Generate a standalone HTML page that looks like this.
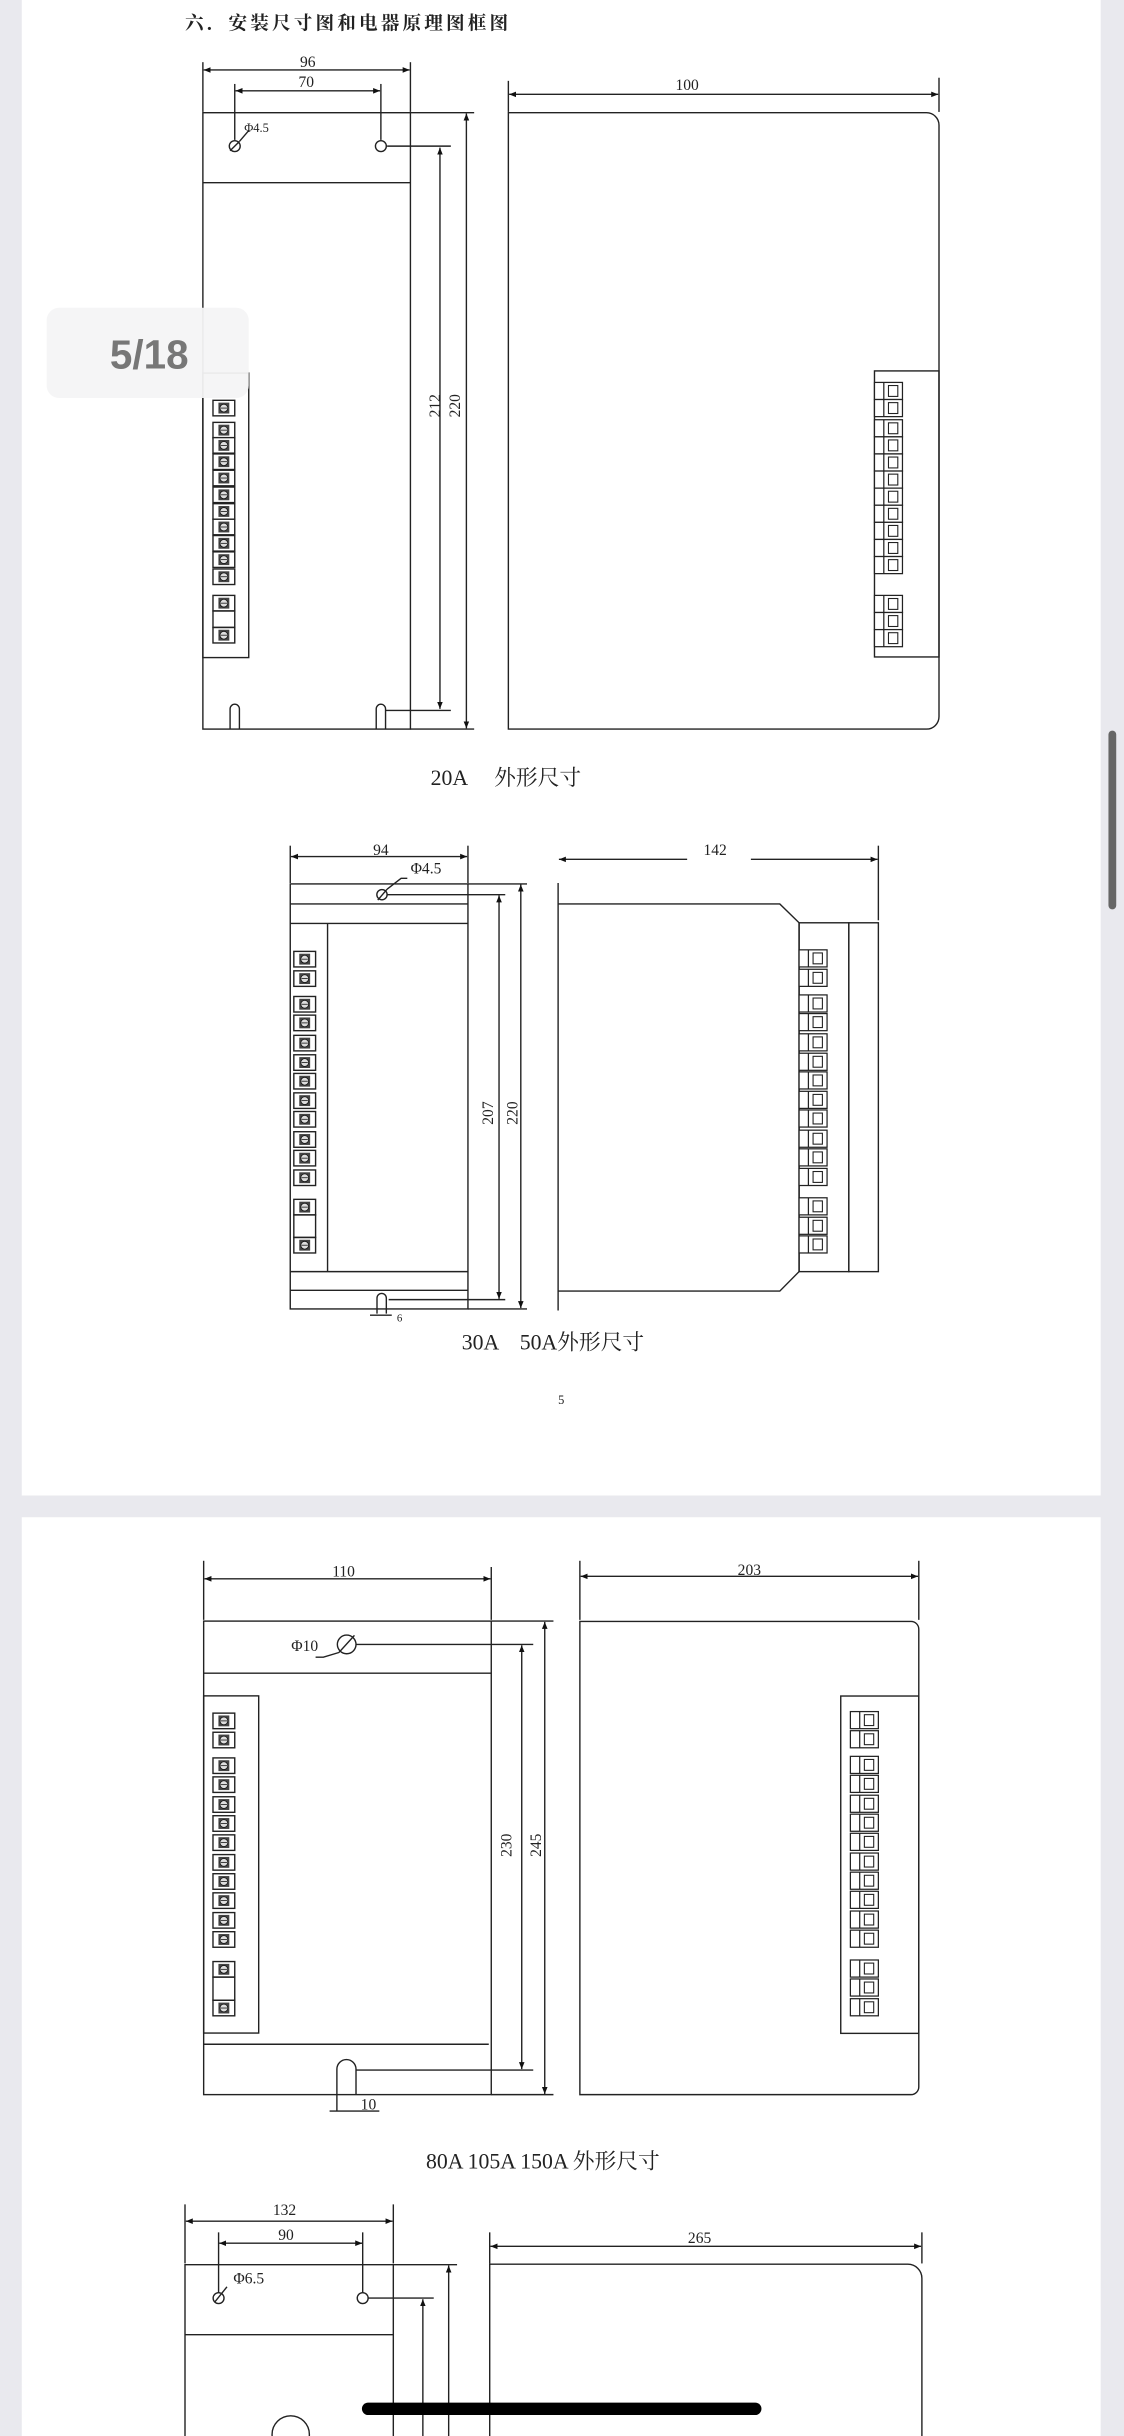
<!DOCTYPE html>
<html><head><meta charset="utf-8"><style>
html,body{margin:0;padding:0;background:#e9e9ee;}
svg{display:block;}
text{font-family:"Liberation Serif","Noto Serif CJK SC",serif;fill:#222;}
.cj{font-family:"Liberation Serif","Noto Serif CJK SC","Noto Sans CJK SC",serif;}
</style></head><body>
<svg width="1124" height="2436" viewBox="0 0 723 1567" preserveAspectRatio="none" xmlns="http://www.w3.org/2000/svg">
<defs>
<marker id="a" viewBox="0 0 10 10" refX="10" refY="5" markerWidth="5" markerHeight="5" orient="auto-start-reverse"><path d="M0,1 L10,5 L0,9 z" fill="#111"/></marker>
<g id="t"><rect x="0" y="0" width="14" height="10" fill="#fff" stroke="#222" stroke-width="0.9"/><rect x="3.5" y="1.5" width="7" height="7" fill="#444"/><circle cx="7" cy="5" r="2.5" fill="#ddd" stroke="#111" stroke-width="0.5"/><line x1="5" y1="5" x2="9" y2="5" stroke="#111" stroke-width="0.5"/></g>
<g id="s"><rect x="0" y="0" width="18" height="11" fill="#fff" stroke="#222" stroke-width="0.8"/><line x1="6" y1="0" x2="6" y2="11" stroke="#222" stroke-width="0.8"/><rect x="9" y="2" width="6" height="7" fill="none" stroke="#222" stroke-width="0.7"/></g>
</defs>
<rect x="0" y="0" width="723" height="1567" fill="#e9e9ee"/>
<rect x="14" y="0" width="694" height="962" fill="#fff"/>
<rect x="14" y="976" width="694" height="600" fill="#fff"/>
<rect x="713" y="470" width="5" height="115" rx="2.5" fill="#666"/>

<g stroke="#222" stroke-width="0.9" fill="none">
<!-- Drawing 1 front -->
<rect x="130.5" y="72.5" width="133.5" height="396.5"/>
<line x1="130.5" y1="117.5" x2="264" y2="117.5"/>
<circle cx="151" cy="94" r="3.5"/><circle cx="245" cy="94" r="3.5"/>
<line x1="148" y1="97" x2="154" y2="91"/><line x1="154" y1="91" x2="160" y2="84"/>
<rect x="130.5" y="240" width="29.5" height="183"/>
<path d="M148,469 V456 a3,3 0 0 1 6,0 V469 M242,469 V456 a3,3 0 0 1 6,0 V469"/>
<line x1="130.5" y1="40" x2="130.5" y2="72"/><line x1="264" y1="40" x2="264" y2="72"/>
<line x1="131" y1="45" x2="263.5" y2="45" marker-start="url(#a)" marker-end="url(#a)"/>
<line x1="151" y1="54" x2="151" y2="90"/><line x1="245" y1="54" x2="245" y2="90"/>
<line x1="151.5" y1="58.4" x2="244.5" y2="58.4" marker-start="url(#a)" marker-end="url(#a)"/>
<line x1="249" y1="94" x2="290" y2="94"/><line x1="248" y1="457" x2="290" y2="457"/>
<line x1="264" y1="72.5" x2="305" y2="72.5"/><line x1="264" y1="469" x2="305" y2="469"/>
<line x1="283" y1="95" x2="283" y2="456" marker-start="url(#a)" marker-end="url(#a)"/>
<line x1="300" y1="73" x2="300" y2="468.5" marker-start="url(#a)" marker-end="url(#a)"/>
<!-- side 1 -->
<path d="M327,72.5 H596 a8,8 0 0 1 8,8 V461 a8,8 0 0 1 -8,8 H327 Z"/>
<rect x="562.5" y="238.6" width="41.5" height="184"/>
<line x1="327" y1="52" x2="327" y2="72"/><line x1="604" y1="50" x2="604" y2="72"/>
<line x1="327.5" y1="60.7" x2="603.5" y2="60.7" marker-start="url(#a)" marker-end="url(#a)"/>

<!-- Drawing 2 front -->
<rect x="186.7" y="568.6" width="114.3" height="273.4"/>
<line x1="186.7" y1="581.5" x2="301" y2="581.5"/><line x1="186.7" y1="594" x2="301" y2="594"/>
<line x1="186.7" y1="818" x2="301" y2="818"/><line x1="186.7" y1="830" x2="301" y2="830"/>
<line x1="210.7" y1="594" x2="210.7" y2="818"/>
<circle cx="245.7" cy="575.5" r="3.3"/><line x1="243" y1="579" x2="249" y2="572"/><path d="M249,572 L258,565 H262"/>
<path d="M242.5,845 V835 a3,3 0 0 1 6,0 V845"/>
<line x1="238" y1="846" x2="252" y2="846"/>
<line x1="186.7" y1="544" x2="186.7" y2="568"/><line x1="301" y1="544" x2="301" y2="568"/>
<line x1="187.2" y1="551" x2="300.5" y2="551" marker-start="url(#a)" marker-end="url(#a)"/>
<line x1="249" y1="575.5" x2="325" y2="575.5"/><line x1="301" y1="568.6" x2="339" y2="568.6"/>
<line x1="250" y1="836" x2="325" y2="836"/><line x1="301" y1="842" x2="339" y2="842"/>
<line x1="321" y1="576" x2="321" y2="835.5" marker-start="url(#a)" marker-end="url(#a)"/>
<line x1="335" y1="569" x2="335" y2="841.5" marker-start="url(#a)" marker-end="url(#a)"/>
<!-- side 2 -->
<line x1="359" y1="568" x2="359" y2="843"/>
<path d="M359,581.5 H501.6 L514,593.6 V818 L501.6,830.5 H359"/>
<rect x="514" y="593.6" width="32" height="224.4"/>
<rect x="546" y="593.6" width="19" height="224.4"/>
<line x1="565" y1="544" x2="565" y2="592"/>
<line x1="359.5" y1="552.8" x2="442" y2="552.8" marker-start="url(#a)"/>
<line x1="483" y1="552.8" x2="564.5" y2="552.8" marker-end="url(#a)"/>

<!-- Drawing 3 front -->
<rect x="131" y="1042.8" width="185" height="304.6"/>
<line x1="131" y1="1076.3" x2="316" y2="1076.3"/>
<line x1="131" y1="1315" x2="314.4" y2="1315"/>
<rect x="131" y="1090.9" width="35.4" height="216.9"/>
<circle cx="223" cy="1057.8" r="6"/><line x1="218" y1="1063" x2="228" y2="1052"/><path d="M218,1063 L208,1066 H203"/>
<path d="M216.7,1358 V1331 a6.15,6.15 0 0 1 12.3,0 V1347"/>
<line x1="212" y1="1358" x2="244" y2="1358"/>
<line x1="131" y1="1004" x2="131" y2="1042"/><line x1="316" y1="1008" x2="316" y2="1042"/>
<line x1="131.5" y1="1015.6" x2="315.5" y2="1015.6" marker-start="url(#a)" marker-end="url(#a)"/>
<line x1="229" y1="1057.8" x2="343" y2="1057.8"/><line x1="316" y1="1042.8" x2="356" y2="1042.8"/>
<line x1="229" y1="1331.6" x2="343" y2="1331.6"/><line x1="316" y1="1347.4" x2="356" y2="1347.4"/>
<line x1="335.6" y1="1058.3" x2="335.6" y2="1331" marker-start="url(#a)" marker-end="url(#a)"/>
<line x1="350.4" y1="1043.3" x2="350.4" y2="1347" marker-start="url(#a)" marker-end="url(#a)"/>
<!-- side 3 -->
<path d="M373,1043 H586 a5,5 0 0 1 5,5 V1342.4 a5,5 0 0 1 -5,5 H373 Z"/>
<rect x="540.8" y="1091" width="50.2" height="217"/>
<line x1="373" y1="1004" x2="373" y2="1042"/><line x1="591" y1="1004" x2="591" y2="1042"/>
<line x1="373.5" y1="1014" x2="590.5" y2="1014" marker-start="url(#a)" marker-end="url(#a)"/>

<!-- Drawing 4 -->
<line x1="119" y1="1418" x2="119" y2="1456"/><line x1="253" y1="1418" x2="253" y2="1456"/>
<line x1="119.5" y1="1428.8" x2="252.5" y2="1428.8" marker-start="url(#a)" marker-end="url(#a)"/>
<line x1="140.6" y1="1436" x2="140.6" y2="1475"/><line x1="233.3" y1="1436" x2="233.3" y2="1475"/>
<line x1="141" y1="1443" x2="233" y2="1443" marker-start="url(#a)" marker-end="url(#a)"/>
<path d="M119,1567 V1456.8 H253 V1567"/>
<line x1="119" y1="1501.8" x2="253" y2="1501.8"/>
<circle cx="140.6" cy="1478.3" r="3.5"/><circle cx="233.3" cy="1478.3" r="3.5"/>
<line x1="138" y1="1481" x2="146" y2="1471"/>
<line x1="237" y1="1478.3" x2="279" y2="1478.3"/><line x1="253" y1="1456.8" x2="294" y2="1456.8"/>
<line x1="272" y1="1479" x2="272" y2="1567" marker-start="url(#a)"/>
<line x1="288.6" y1="1457.3" x2="288.6" y2="1567" marker-start="url(#a)"/>
<circle cx="187" cy="1566" r="12"/>
<path d="M315,1567 V1456.5 H584 a9,9 0 0 1 9,9 V1567"/>
<line x1="315" y1="1436" x2="315" y2="1456"/><line x1="593" y1="1436" x2="593" y2="1456"/>
<line x1="315.5" y1="1445" x2="592.5" y2="1445" marker-start="url(#a)" marker-end="url(#a)"/>
</g>

<!-- terminals drawing 1 front -->
<g transform="translate(137,0)">
<use href="#t" y="257.5"/><use href="#t" y="271.7"/><use href="#t" y="281.5"/><use href="#t" y="292"/><use href="#t" y="302.5"/><use href="#t" y="313.3"/><use href="#t" y="324"/><use href="#t" y="334"/><use href="#t" y="344.5"/><use href="#t" y="355"/><use href="#t" y="366"/><use href="#t" y="383"/><use href="#t" y="403.6"/>
<rect x="0" y="393" width="14" height="10.6" fill="none" stroke="#222" stroke-width="0.9"/>
</g>
<!-- side terminals 1 -->
<g transform="translate(562.5,0)">
<use href="#s" y="246"/><use href="#s" y="257"/><use href="#s" y="270"/><use href="#s" y="281"/><use href="#s" y="292"/><use href="#s" y="303"/><use href="#s" y="314"/><use href="#s" y="325"/><use href="#s" y="336"/><use href="#s" y="347"/><use href="#s" y="358"/><use href="#s" y="383"/><use href="#s" y="394"/><use href="#s" y="405"/>
</g>
<!-- terminals drawing 2 -->
<g transform="translate(189,-5)">
<use href="#t" y="617"/><use href="#t" y="629.5"/><use href="#t" y="646"/><use href="#t" y="658"/><use href="#t" y="671"/><use href="#t" y="683.5"/><use href="#t" y="695.5"/><use href="#t" y="708"/><use href="#t" y="720"/><use href="#t" y="733"/><use href="#t" y="745"/><use href="#t" y="757.6"/><use href="#t" y="776.5"/><use href="#t" y="801"/>
<rect x="0" y="786.5" width="14" height="14.5" fill="none" stroke="#222" stroke-width="0.9"/>
</g>
<g transform="translate(514,-6)">
<use href="#s" y="617"/><use href="#s" y="629.5"/><use href="#s" y="646"/><use href="#s" y="658"/><use href="#s" y="671"/><use href="#s" y="683.5"/><use href="#s" y="695.5"/><use href="#s" y="708"/><use href="#s" y="720"/><use href="#s" y="733"/><use href="#s" y="745"/><use href="#s" y="757.6"/><use href="#s" y="776.5"/><use href="#s" y="789"/><use href="#s" y="801"/>
</g>
<!-- terminals drawing 3 -->
<g transform="translate(137,-5)">
<use href="#t" y="1107"/><use href="#t" y="1119.3"/><use href="#t" y="1135.8"/><use href="#t" y="1148"/><use href="#t" y="1160.8"/><use href="#t" y="1173"/><use href="#t" y="1185.3"/><use href="#t" y="1198"/><use href="#t" y="1210.3"/><use href="#t" y="1222.6"/><use href="#t" y="1235.3"/><use href="#t" y="1247.6"/><use href="#t" y="1266.8"/><use href="#t" y="1291.7"/>
<rect x="0" y="1276.8" width="14" height="14.9" fill="none" stroke="#222" stroke-width="0.9"/>
</g>
<g transform="translate(547,-6)">
<use href="#s" y="1107"/><use href="#s" y="1119.3"/><use href="#s" y="1135.8"/><use href="#s" y="1148"/><use href="#s" y="1160.8"/><use href="#s" y="1173"/><use href="#s" y="1185.3"/><use href="#s" y="1198"/><use href="#s" y="1210.3"/><use href="#s" y="1222.6"/><use href="#s" y="1235.3"/><use href="#s" y="1247.6"/><use href="#s" y="1266.8"/><use href="#s" y="1279"/><use href="#s" y="1291.7"/>
</g>

<!-- 5/18 overlay -->
<rect x="30" y="198" width="130" height="58" rx="8" fill="#f4f4f5" opacity="0.95"/>
<text x="96" y="237" text-anchor="middle" style="font-family:'Liberation Sans',sans-serif;font-size:26px;font-weight:bold;fill:#777">5/18</text>

<!-- texts -->
<text class="cj" x="119" y="19" style="font-size:12px;font-weight:bold;letter-spacing:2px">六．安装尺寸图和电器原理图框图</text>
<g style="font-size:10px" text-anchor="middle">
<text x="198" y="43">96</text>
<text x="197" y="56">70</text>
<text x="165" y="85" style="font-size:8px">Φ4.5</text>
<text transform="translate(283,261) rotate(-90)">212</text>
<text transform="translate(296,261) rotate(-90)">220</text>
<text x="442" y="58">100</text>
<text x="245" y="550">94</text>
<text x="274" y="562">Φ4.5</text>
<text x="257" y="850" style="font-size:7px">6</text>
<text transform="translate(317,716) rotate(-90)">207</text>
<text transform="translate(333,716) rotate(-90)">220</text>
<text x="460" y="550">142</text>
<text x="221" y="1014">110</text>
<text x="196" y="1062">Φ10</text>
<text x="237" y="1357">10</text>
<text transform="translate(329,1187) rotate(-90)">230</text>
<text transform="translate(348,1187) rotate(-90)">245</text>
<text x="482" y="1013">203</text>
<text x="183" y="1425">132</text>
<text x="184" y="1441">90</text>
<text x="160" y="1469">Φ6.5</text>
<text x="450" y="1443">265</text>
</g>
<text class="cj" x="277" y="505" style="font-size:14px">20A　 外形尺寸</text>
<text class="cj" x="297" y="868" style="font-size:14px">30A　50A外形尺寸</text>
<text x="361" y="903" text-anchor="middle" style="font-size:8px">5</text>
<text class="cj" x="274" y="1395" style="font-size:14px">80A 105A 150A 外形尺寸</text>
<rect x="232.8" y="1545.5" width="257" height="8" rx="4" fill="#000"/>
</svg>
</body></html>
